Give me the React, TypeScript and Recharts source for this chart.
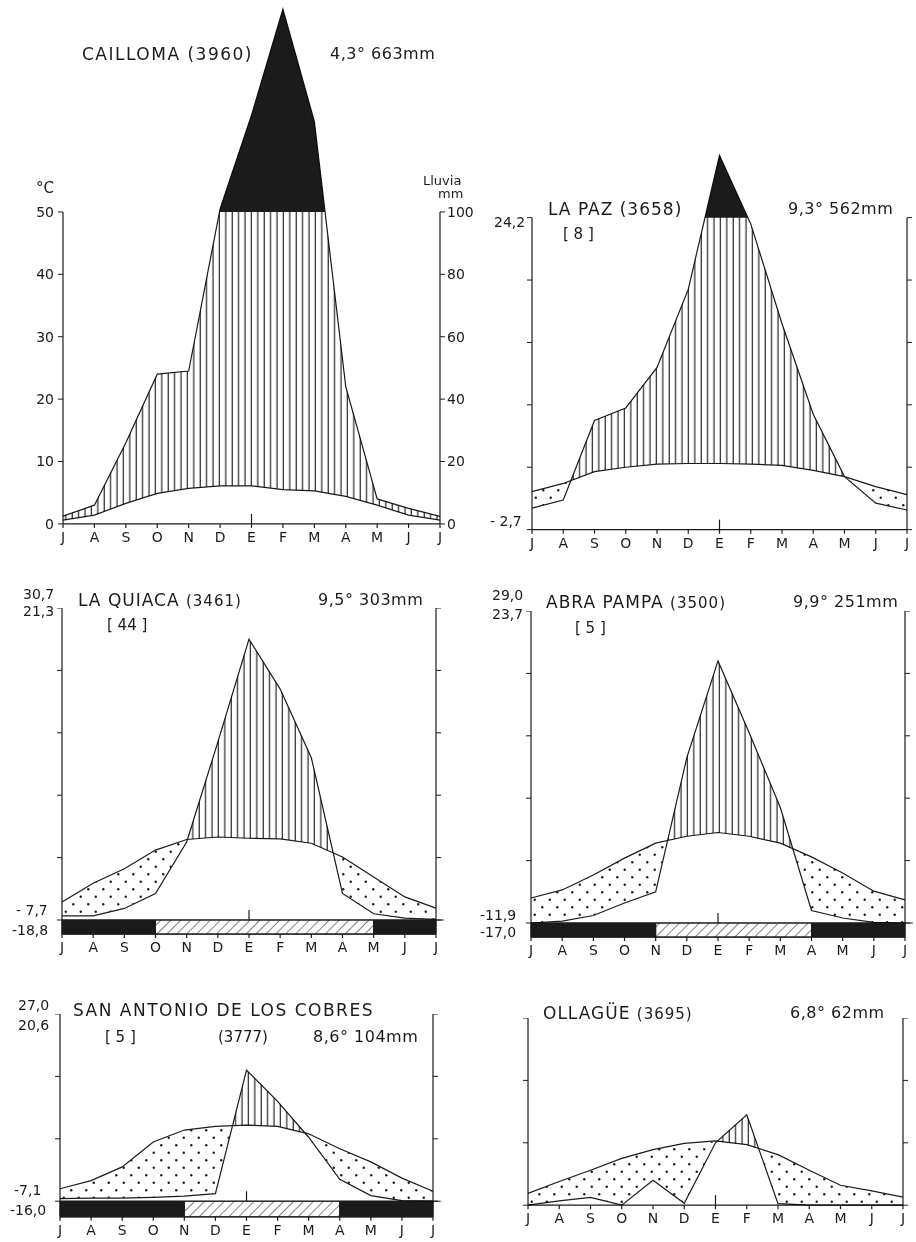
import React from 'react';
import { ComposedChart, Area, Line, XAxis, YAxis, ReferenceArea, ReferenceLine } from 'recharts';

// Walter-Lieth style climate diagrams, July -> July
const MONTHS = ['J', 'A', 'S', 'O', 'N', 'D', 'E', 'F', 'M', 'A', 'M', 'J', 'J'];

// temperature in °C, rain in mm
const caillomaTemp = [0.6, 1.4, 3.3, 4.9, 5.7, 6.1, 6.1, 5.5, 5.3, 4.4, 3.0, 1.4, 0.6];
const caillomaRain = [2.5, 6, 26, 48, 49, 101, 131, 165, 129, 44, 8, 5, 2.4];

const lapazTemp = [6.1, 7.4, 9.3, 10.0, 10.5, 10.6, 10.6, 10.5, 10.3, 9.5, 8.5, 6.9, 5.6];
const lapazRain = [6.9, 9.5, 35, 39, 52, 77, 120, 98, 66, 37, 17, 8.5, 6.3];

const quiacaTemp = [2.9, 5.9, 8.2, 11.2, 12.9, 13.3, 13.1, 13.0, 12.3, 10.1, 6.9, 3.7, 1.9];
const quiacaRain = [1.3, 1.3, 3.7, 8.5, 25, 57, 90, 74, 52, 8.5, 2, 0.6, 0.2];

const abraTemp = [4.0, 5.3, 7.7, 10.4, 12.8, 13.9, 14.5, 13.9, 12.8, 10.6, 8.0, 5.1, 3.7];
const abraRain = [0, 0.6, 2.4, 6.4, 10, 53, 84, 61, 37, 4, 1.6, 0.2, 0];

const sanAntonioTemp = [2.0, 3.3, 5.5, 9.5, 11.4, 12.0, 12.2, 12.0, 10.8, 8.4, 6.3, 3.7, 1.6];
const sanAntonioRain = [0.8, 1.0, 1.0, 1.2, 1.6, 2.4, 42, 32, 20.5, 7, 1.8, 0.2, 0];

const ollagueTemp = [1.9, 3.8, 5.6, 7.5, 8.9, 9.9, 10.3, 9.7, 8.1, 5.6, 3.2, 2.3, 1.3];
const ollagueRain = [0, 1.4, 2.5, 0, 8, 0.6, 20, 29, 0.5, 0, 0, 0, 0];

// frost bars under the axis: sure = months with absolute minimum below zero
type Frost = { from: number; to: number; sure: boolean };
const quiacaFrost: Frost[] = [
  { from: 0, to: 3, sure: true },
  { from: 3, to: 10, sure: false },
  { from: 10, to: 12, sure: true },
];
const abraFrost: Frost[] = [
  { from: 0, to: 4, sure: true },
  { from: 4, to: 9, sure: false },
  { from: 9, to: 12, sure: true },
];
const sanAntonioFrost: Frost[] = [
  { from: 0, to: 4, sure: true },
  { from: 4, to: 9, sure: false },
  { from: 9, to: 12, sure: true },
];

const INK = '#1b1b1b';
const FONT = '"DejaVu Sans", sans-serif';
const PX = 3.12; // px per mm, 1 °C = 2 mm
const YW = 45;
const XH = 30;

type PanelProps = {
  id: string;
  left: number;
  right: number;
  zeroY: number;
  top: number;
  max: number;
  min: number;
  temp: number[];
  rain: number[];
  frost?: Frost[];
  labels?: boolean;
};

const Panel: React.FC<PanelProps> = (p) => {
  const data = MONTHS.map((m, i) => ({ i, t: p.temp[i], p: p.rain[i] }));
  const width = p.right - p.left + 2 * YW;
  const height = (p.max - p.min) * PX + XH;
  const pos: React.CSSProperties = { position: 'absolute', left: p.left - YW, top: p.zeroY - p.max * PX };
  const mmTicks: number[] = [];
  for (let v = 0; v <= p.top; v += 20) mmTicks.push(v);
  const cTicks = mmTicks.map((v) => v / 2);
  const monthTicks = MONTHS.map((_, i) => i);
  const tickStyle = { fontSize: 14, fill: INK, fontFamily: FONT };
  // other panels keep the tick marks but not the numbers
  const noText = p.labels ? undefined : () => '';

  return (
    <>
      <div style={pos}>
        <ComposedChart width={width} height={height} data={data} margin={{ top: 0, right: 0, bottom: 0, left: 0 }}>
          <defs>
            <pattern id={`vh-${p.id}`} width={6.4} height={8} patternUnits="userSpaceOnUse">
              <line x1={3} y1={0} x2={3} y2={8} stroke={INK} strokeWidth={1.15} />
            </pattern>
            <pattern id={`dg-${p.id}`} width={7} height={7} patternUnits="userSpaceOnUse" patternTransform="rotate(45)">
              <line x1={0} y1={0} x2={0} y2={7} stroke={INK} strokeWidth={1.1} />
            </pattern>
          </defs>
          <XAxis
            dataKey="i"
            type="number"
            domain={[0, 12]}
            ticks={monthTicks}
            interval={0}
            tickFormatter={(v) => MONTHS[v]}
            height={XH}
            tickSize={4}
            tickMargin={4}
            stroke={INK}
            strokeWidth={1.2}
            tick={tickStyle}
          />
          <YAxis
            yAxisId="c"
            orientation="left"
            type="number"
            domain={[p.min / 2, p.max / 2]}
            ticks={cTicks}
            width={YW}
            axisLine={false}
            tickSize={5}
            tickMargin={4}
            stroke={INK}
            tick={tickStyle}
            tickFormatter={noText}
          />
          <YAxis
            yAxisId="mm"
            orientation="right"
            type="number"
            domain={[p.min, p.max]}
            ticks={mmTicks}
            width={YW}
            axisLine={false}
            tickSize={5}
            tickMargin={2}
            stroke={INK}
            tick={tickStyle}
            tickFormatter={noText}
          />
          {p.max > p.top && (
            <Area yAxisId="mm" dataKey="p" type="linear" fill={INK} fillOpacity={1} stroke="none" isAnimationActive={false} zIndex={10} />
          )}
          {p.max > p.top && (
            <ReferenceArea yAxisId="mm" x1={0} x2={12} y1={p.min} y2={p.top} fill="#fff" fillOpacity={1} stroke="none" zIndex={20} />
          )}
          <Area yAxisId="mm" dataKey="p" type="linear" fill={`url(#vh-${p.id})`} fillOpacity={1} stroke="none" isAnimationActive={false} zIndex={30} />
          <Area yAxisId="c" dataKey="t" type="linear" fill="#fff" fillOpacity={1} stroke="none" isAnimationActive={false} zIndex={40} />
          {(p.frost || []).map((f, k) => (
            <ReferenceArea
              key={k}
              yAxisId="mm"
              x1={f.from}
              x2={f.to}
              y1={p.min}
              y2={0}
              fill={f.sure ? INK : `url(#dg-${p.id})`}
              fillOpacity={1}
              stroke={INK}
              strokeWidth={1}
              zIndex={50}
            />
          ))}
          <ReferenceLine yAxisId="mm" segment={[{ x: 0, y: p.min }, { x: 0, y: p.top }]} stroke={INK} strokeWidth={1.2} zIndex={60} />
          <ReferenceLine yAxisId="mm" segment={[{ x: 12, y: p.min }, { x: 12, y: p.top }]} stroke={INK} strokeWidth={1.2} zIndex={60} />
          {p.min < 0 && (
            <ReferenceLine yAxisId="mm" segment={[{ x: 0, y: 0 }, { x: 12.25, y: 0 }]} stroke={INK} ifOverflow="visible" zIndex={60} />
          )}
          <ReferenceLine yAxisId="mm" segment={[{ x: 6, y: 0 }, { x: 6, y: 3.2 }]} stroke={INK} strokeWidth={1.2} zIndex={60} />
        </ComposedChart>
      </div>
      {/* dry season dots + outlines, multiplied over the base so white does nothing */}
      <div style={{ ...pos, mixBlendMode: 'multiply' }}>
        <ComposedChart width={width} height={height} data={data} margin={{ top: 0, right: YW, bottom: XH, left: YW }}>
          <defs>
            <pattern id={`dt-${p.id}`} width={15} height={15} patternUnits="userSpaceOnUse">
              <circle cx={3.75} cy={3.75} r={1.2} fill={INK} />
              <circle cx={11.25} cy={11.25} r={1.2} fill={INK} />
            </pattern>
          </defs>
          <XAxis hide dataKey="i" type="number" domain={[0, 12]} />
          <YAxis hide yAxisId="c" type="number" domain={[p.min / 2, p.max / 2]} />
          <YAxis hide yAxisId="mm" type="number" domain={[p.min, p.max]} />
          <Area yAxisId="c" dataKey="t" type="linear" fill={`url(#dt-${p.id})`} fillOpacity={1} stroke="none" isAnimationActive={false} zIndex={10} />
          <Area yAxisId="mm" dataKey="p" type="linear" fill="#fff" fillOpacity={1} stroke="none" isAnimationActive={false} zIndex={20} />
          <Line yAxisId="c" dataKey="t" type="linear" stroke={INK} strokeWidth={1.2} dot={false} activeDot={false} isAnimationActive={false} zIndex={30} />
          <Line yAxisId="mm" dataKey="p" type="linear" stroke={INK} strokeWidth={1.2} dot={false} activeDot={false} isAnimationActive={false} zIndex={30} />
        </ComposedChart>
      </div>
    </>
  );
};

const Txt: React.FC<{ x: number; y: number; s?: number; ls?: number; children: React.ReactNode }> = ({ x, y, s = 14, ls = 0, children }) => (
  <div
    style={{
      position: 'absolute',
      left: x,
      top: y - 0.48 * s,
      fontSize: s,
      lineHeight: 1,
      letterSpacing: ls,
      fontFamily: FONT,
      color: INK,
      whiteSpace: 'nowrap',
    }}
  >
    {children}
  </div>
);

export default function App() {
  return (
    <div style={{ position: 'absolute', left: 0, top: 0, width: 916, height: 1242, background: '#fff', overflow: 'hidden' }}>
      <Panel id="cai" left={63} right={440} zeroY={524} top={100} max={166} min={0} temp={caillomaTemp} rain={caillomaRain} labels />
      <Panel id="lpz" left={532} right={907} zeroY={530} top={100} max={122} min={0} temp={lapazTemp} rain={lapazRain} />
      <Panel id="lqu" left={62} right={436} zeroY={920} top={100} max={100} min={-4.5} temp={quiacaTemp} rain={quiacaRain} frost={quiacaFrost} />
      <Panel id="abr" left={531} right={905} zeroY={923} top={100} max={100} min={-4.5} temp={abraTemp} rain={abraRain} frost={abraFrost} />
      <Panel id="san" left={60} right={433} zeroY={1201} top={60} max={60} min={-5} temp={sanAntonioTemp} rain={sanAntonioRain} frost={sanAntonioFrost} />
      <Panel id="oll" left={528} right={903} zeroY={1205} top={60} max={60} min={0} temp={ollagueTemp} rain={ollagueRain} />

      <Txt x={82} y={54} s={17} ls={1.5}>CAILLOMA (3960)</Txt>
      <Txt x={330} y={54} s={16} ls={0.5}>4,3° 663mm</Txt>
      <Txt x={36} y={188} s={15}>°C</Txt>
      <Txt x={423} y={180} s={13}>Lluvia</Txt>
      <Txt x={438} y={193} s={13}>mm</Txt>

      <Txt x={548} y={209} s={17} ls={1}>LA PAZ (3658)</Txt>
      <Txt x={563} y={234} s={15}>[ 8 ]</Txt>
      <Txt x={788} y={209} s={16} ls={0.5}>9,3° 562mm</Txt>
      <Txt x={494} y={222} s={14}>24,2</Txt>
      <Txt x={490} y={521} s={14}>- 2,7</Txt>

      <Txt x={23} y={594} s={14}>30,7</Txt>
      <Txt x={23} y={611} s={14}>21,3</Txt>
      <Txt x={78} y={600} s={17} ls={1}>LA QUIACA <span style={{ fontSize: 15 }}>(3461)</span></Txt>
      <Txt x={107} y={625} s={15}>[ 44 ]</Txt>
      <Txt x={318} y={600} s={16} ls={0.5}>9,5° 303mm</Txt>
      <Txt x={16} y={910} s={14}>- 7,7</Txt>
      <Txt x={12} y={930} s={14}>-18,8</Txt>

      <Txt x={492} y={595} s={14}>29,0</Txt>
      <Txt x={492} y={614} s={14}>23,7</Txt>
      <Txt x={546} y={602} s={17} ls={1}>ABRA PAMPA <span style={{ fontSize: 15 }}>(3500)</span></Txt>
      <Txt x={575} y={628} s={15}>[ 5 ]</Txt>
      <Txt x={793} y={602} s={16} ls={0.5}>9,9° 251mm</Txt>
      <Txt x={480} y={915} s={14}>-11,9</Txt>
      <Txt x={480} y={932} s={14}>-17,0</Txt>

      <Txt x={18} y={1005} s={14}>27,0</Txt>
      <Txt x={18} y={1025} s={14}>20,6</Txt>
      <Txt x={73} y={1010} s={17} ls={1.5}>SAN ANTONIO DE LOS COBRES</Txt>
      <Txt x={105} y={1037} s={15}>[ 5 ]</Txt>
      <Txt x={218} y={1037} s={15}>(3777)</Txt>
      <Txt x={313} y={1037} s={16} ls={0.5}>8,6° 104mm</Txt>
      <Txt x={14} y={1190} s={14}>-7,1</Txt>
      <Txt x={10} y={1210} s={14}>-16,0</Txt>

      <Txt x={543} y={1013} s={17} ls={1}>OLLAGÜE <span style={{ fontSize: 15 }}>(3695)</span></Txt>
      <Txt x={790} y={1013} s={16} ls={0.5}>6,8°  62mm</Txt>
    </div>
  );
}
